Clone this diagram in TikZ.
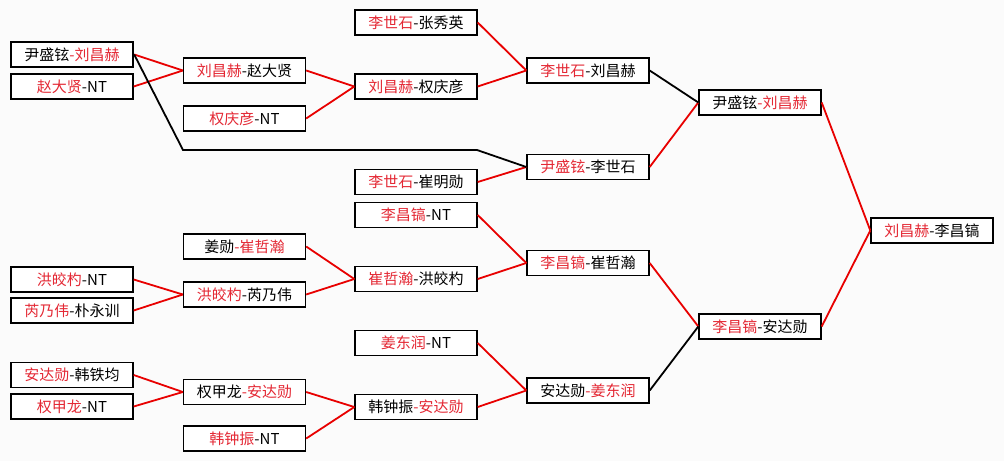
\documentclass[tikz,border=0pt]{standalone}
\usepackage{fontspec}
\setmainfont{Noto Sans CJK SC}
\definecolor{winred}{RGB}{228,40,52}
\definecolor{linered}{RGB}{232,0,0}
\newcommand{\wn}[1]{\textcolor{winred}{#1}}
\begin{document}
\begin{tikzpicture}[x=1pt,y=-1pt,
    match/.style={draw,fill=white,line width=1.4pt,minimum width=122pt,minimum height=25pt,inner sep=0pt,
      font=\fontsize{15}{16}\selectfont},
    champ/.style={match,line width=2.4pt}]
      \fill[gray!3] (0,0) rectangle (1004,461);
      \draw
        (72,54.5) node[champ] (a1){尹盛铉\wn{-刘昌赫}}
        (72,86.5) node[match] (a2){\wn{赵大贤}-NT}
        (72,279.5) node[match] (a3){\wn{洪皎杓}-NT}
        (72,310.5) node[match] (a4){\wn{芮乃伟}-朴永训}
        (72,375) node[match] (a5){\wn{安达勋}-韩铁均}
        (72,406.5) node[match] (a6){\wn{权甲龙}-NT}
        (244.5,70.5) node[match] (b1){\wn{刘昌赫}-赵大贤}
        (244.5,118.5) node[match] (b2){\wn{权庆彦}-NT}
        (244.5,246.5) node[match] (b3){姜勋\wn{-崔哲瀚}}
        (244.5,294.5) node[match] (b4){\wn{洪皎杓}-芮乃伟}
        (244.5,392) node[match] (b5){权甲龙\wn{-安达勋}}
        (244.5,438.5) node[match] (b6){\wn{韩钟振}-NT}
        (416,22.5) node[match] (c1){\wn{李世石}-张秀英}
        (416,86.5) node[match] (c2){\wn{刘昌赫}-权庆彦}
        (416,182) node[match] (c3){\wn{李世石}-崔明勋}
        (416,215) node[match] (c4){\wn{李昌镐}-NT}
        (416,279) node[match] (c5){\wn{崔哲瀚}-洪皎杓}
        (416,343) node[match] (c6){\wn{姜东润}-NT}
        (416,407) node[match] (c7){韩钟振\wn{-安达勋}}
        (588,70.5) node[match] (d1){\wn{李世石}-刘昌赫}
        (588,167) node[match] (d2){\wn{尹盛铉}-李世石}
        (588,263) node[match] (d3){\wn{李昌镐}-崔哲瀚}
        (588,390.5) node[match] (d4){安达勋\wn{-姜东润}}
        (760,102.5) node[match] (e1){尹盛铉\wn{-刘昌赫}}
        (760,326.5) node[match] (e2){\wn{李昌镐}-安达勋}
        (932,230.5) node[match] (f){\wn{刘昌赫}-李昌镐};
      \coordinate (k1) at (183,150);
      \coordinate (k2) at (477,150);
      \begin{scope}[line width=1.8pt,linered]
        \draw (a1.east) to (b1.west);
        \draw (a2.east) to (b1.west);
        \draw (b1.east) to (c2.west);
        \draw (b2.east) to (c2.west);
        \draw (c1.east) to (d1.west);
        \draw (c2.east) to (d1.west);
        \draw (c3.east) to (d2.west);
        \draw (d2.east) to (e1.west);
        \draw (e1.east) to (f.west);
        \draw (e2.east) to (f.west);
        \draw (a3.east) to (b4.west);
        \draw (a4.east) to (b4.west);
        \draw (b3.east) to (c5.west);
        \draw (b4.east) to (c5.west);
        \draw (c4.east) to (d3.west);
        \draw (c5.east) to (d3.west);
        \draw (d3.east) to (e2.west);
        \draw (a5.east) to (b5.west);
        \draw (a6.east) to (b5.west);
        \draw (b5.east) to (c7.west);
        \draw (b6.east) to (c7.west);
        \draw (c6.east) to (d4.west);
        \draw (c7.east) to (d4.west);
      \end{scope}
      \begin{scope}[line width=1.8pt,black]
        \draw (a1.east) -- (k1) -- (k2) -- (d2.west);
        \draw (d1.east) to (e1.west);
        \draw (d4.east) to (e2.west);
      \end{scope}
    \end{tikzpicture}
\end{document}
